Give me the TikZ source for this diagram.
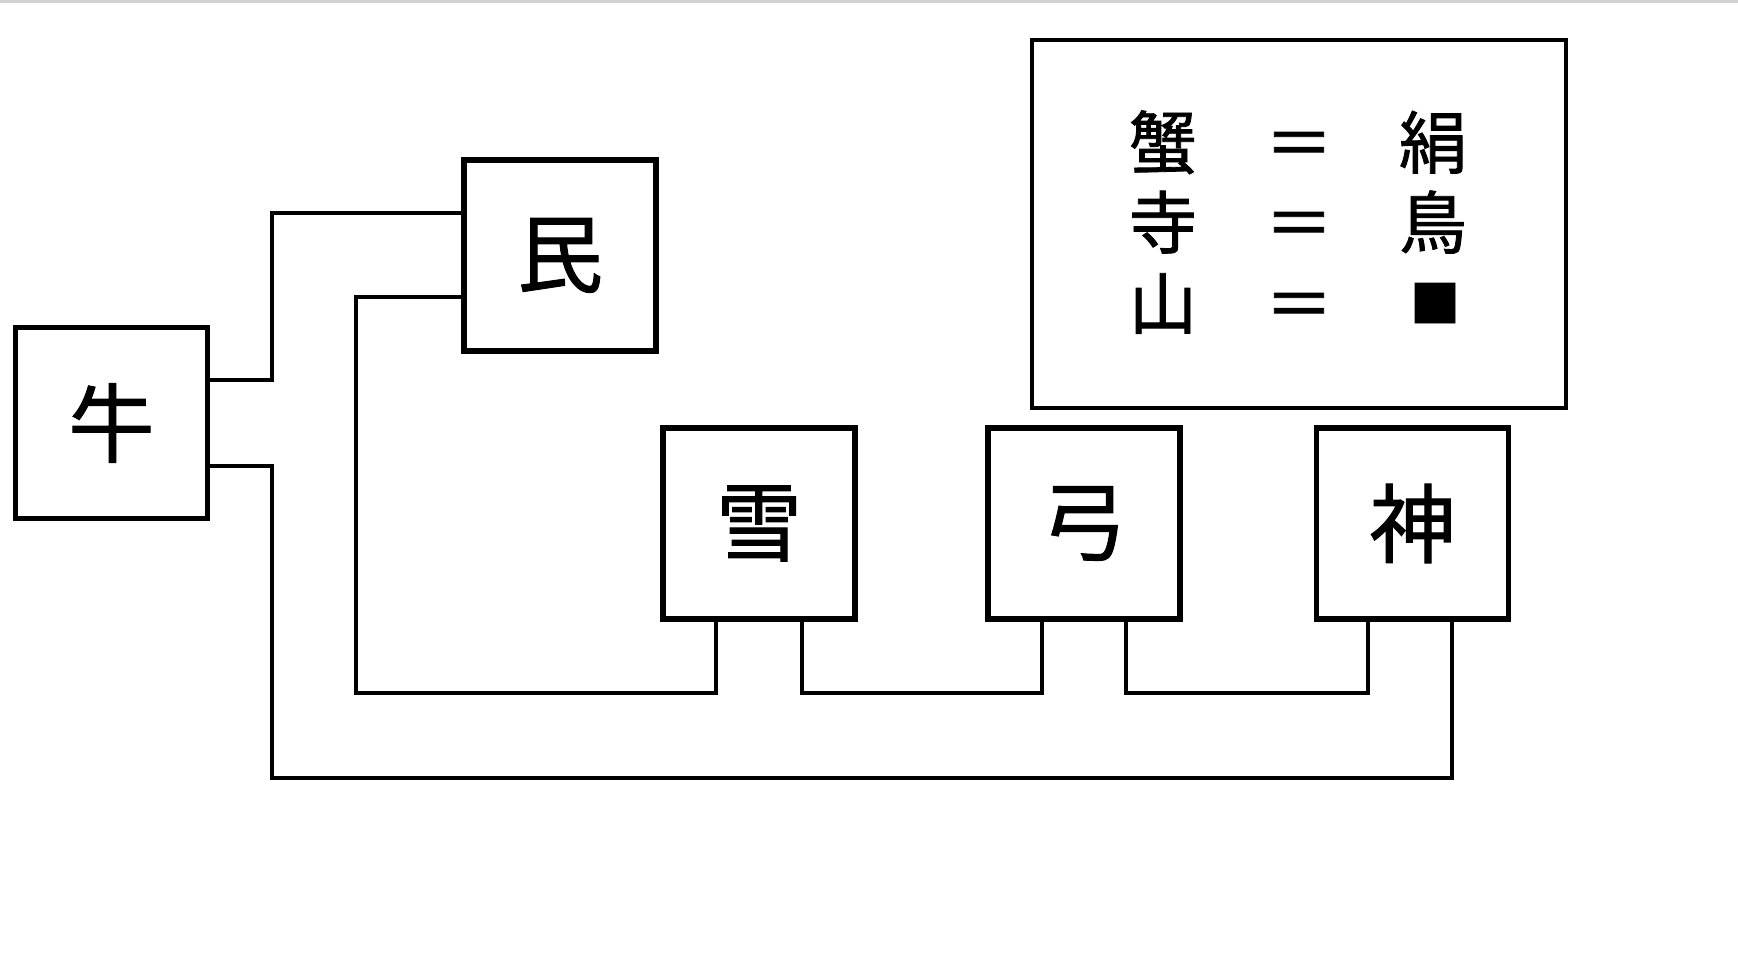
\documentclass[tikz,border=0pt]{standalone}
\usepackage{fontspec}
\newfontfamily\cjk[FakeBold=1.2]{Noto Sans CJK JP}
\begin{document}
\begin{tikzpicture}[x=1pt,y=-1pt,
  box/.style={draw=black,line width=5.5pt,rectangle,inner sep=0pt,
    minimum width=192pt,minimum height=191pt,font=\cjk\fontsize{86}{86}\selectfont},
  conn/.style={draw=black,line width=4.5pt,line cap=rect,line join=miter},
  legendframe/.style={draw=black,line width=4pt,rectangle,inner sep=0pt,
    minimum width=534pt,minimum height=368pt},
  legtext/.style={inner sep=0pt,anchor=base,font=\cjk\fontsize{68}{68}\selectfont}]
\useasboundingbox (0,0) rectangle (1738,980);
\fill[white] (0,0) rectangle (1738,980);
% thin grey strip along the top edge
\fill[black!18] (0,0) rectangle (1738,3);

% boxes
\node[box] (niu)  at (111.5,423) {牛};
\node[box] (min)  at (560,255.5) {民};
\node[box] (xue)  at (759,523.5) {雪};
\node[box] (gong) at (1084,523.5) {弓};
\node[box] (shen) at (1412.5,523.5) {神};

% legend (text placed on baselines 26pt below each row centre)
\node[legendframe] (leg) at (1299,224) {};
\node[legtext] (l1a) at (1163,168) {蟹};
\node[legtext] (l1b) at (1299,168) {＝};
\node[legtext] (l1c) at (1433,168) {絹};
\node[legtext] (l2a) at (1163,248) {寺};
\node[legtext] (l2b) at (1299,248) {＝};
\node[legtext] (l2c) at (1433,248) {鳥};
\node[legtext] (l3a) at (1163,329) {山};
\node[legtext] (l3b) at (1299,329) {＝};
\node[legtext,font=\cjk\fontsize{50}{50}\selectfont] (l3c) at (1435,322) {■};

% connectors
\draw[conn] (niu.east |- 0,380) -| (272,213) -- (min.west |- 0,213);
\draw[conn] (niu.east |- 0,466) -| (272,778) -| (shen.south -| 1452,0);
\draw[conn] (min.west |- 0,297) -| (356,693) -| (xue.south -| 716,0);
\draw[conn] (xue.south -| 802,0) |- (1042,693) -- (gong.south -| 1042,0);
\draw[conn] (gong.south -| 1126,0) |- (1368,693) -- (shen.south -| 1368,0);
\end{tikzpicture}
\end{document}
